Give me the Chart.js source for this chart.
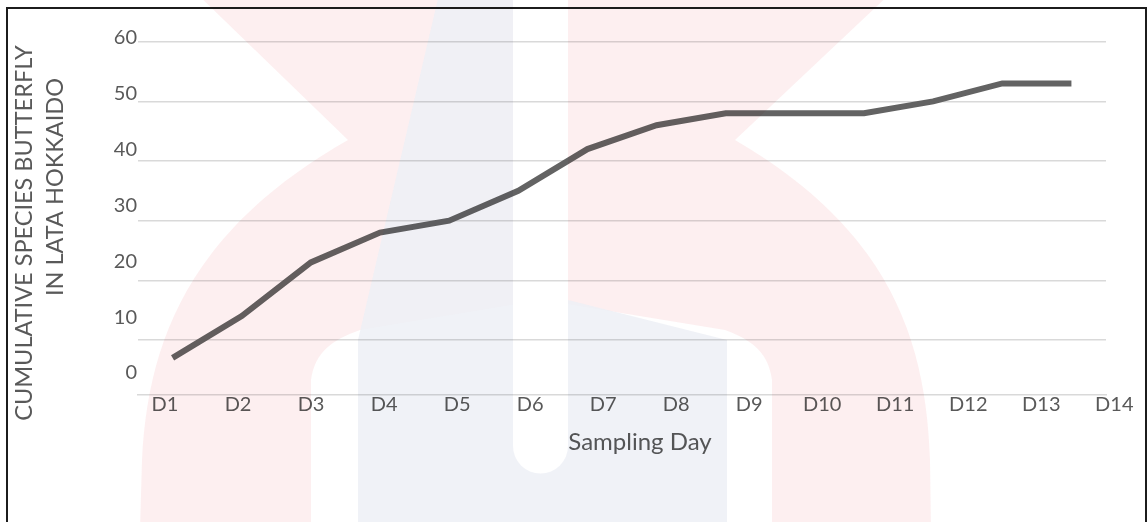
<!DOCTYPE html>
<html>
<head>
<meta charset="utf-8">
<title>Cumulative butterfly species by sampling day</title>
<script src="https://cdn.jsdelivr.net/npm/chart.js@4"></script>
<style>
  html, body { margin: 0; padding: 0; background: #ffffff; }
  #wrap { position: relative; width: 1148px; height: 522px; overflow: hidden; }
  #chart { position: absolute; left: 0; top: 0; }
  #frame { position: absolute; left: 6px; top: 7px; width: 1141px; height: 600px;
           box-sizing: border-box; border: 2px solid #1c1c1c; pointer-events: none; }
  #emblem { position: absolute; left: 0; top: 0; mix-blend-mode: multiply; pointer-events: none; }
</style>
</head>
<body>
<div id="wrap">
  <canvas id="chart" width="1148" height="522"></canvas>
  <div id="frame"></div>
  <!-- faint institutional emblem printed over the page -->
  <svg id="emblem" width="1148" height="522" viewBox="0 0 1148 522">
    <defs>
      <mask id="slot">
        <rect x="-10" y="-10" width="1170" height="545" fill="#fff"/>
        <path d="M513,-10 L568,-10 L568,446 A27.5,27.5 0 0 1 513,446 Z" fill="#000"/>
      </mask>
    </defs>
    <g mask="url(#slot)">
      <path fill="rgb(228,40,55)" fill-opacity="0.075"
            d="M140,530 L142,460 C148,340 190,230 348,140 L193,-10 L894,-10 L735,140
               C890,230 926,340 930,460 L931,530 L772,530 L772,380
               C768,352 752,340 725,330 L542,300 L360,330 C332,340 315,352 311,380 L311,530 Z"/>
      <path fill="rgb(237,240,246)" fill-opacity="0.85"
            d="M440,-10 L513,-10 L513,300 L568,300 L727,340 L727,530 L358,530 L358,340 Z"/>
    </g>
  </svg>
</div>
<script>
// Sampling days and the running total of butterfly species recorded
const days = ['D1', 'D2', 'D3', 'D4', 'D5', 'D6', 'D7', 'D8', 'D9', 'D10', 'D11', 'D12', 'D13', 'D14'];
const cumulativeSpecies = [7, 14, 23, 28, 30, 35, 42, 46, 48, 48, 48, 50, 53, 53];

// Value axis labels and horizontal gridlines
const yTickValues = [0, 10, 20, 30, 40, 50, 60];
const gridValues = [10, 20, 30, 40, 50, 60];

// Axis titles
const xTitle = 'Sampling Day';
const yTitleLines = ['CUMULATIVE SPECIES BUTTERFLY', 'IN LATA HOKKAIDO'];

const textColor = '#595959';
const gridColor = '#d9d9d9';
Chart.defaults.font.family = 'Lato';

// Writes the two axis titles in their text boxes
const axisTitles = {
  id: 'axisTitles',
  afterDraw(chart) {
    const { ctx } = chart;
    ctx.save();
    ctx.fillStyle = textColor;
    ctx.textAlign = 'center';
    ctx.textBaseline = 'middle';

    ctx.font = '24px Lato';
    ctx.fillText(xTitle, 640, 442);

    ctx.font = '23.5px Lato';
    const boxes = [{ x: 24, y: 233 }, { x: 55, y: 187 }];
    yTitleLines.forEach((line, i) => {
      ctx.save();
      ctx.translate(boxes[i].x, boxes[i].y);
      ctx.rotate(-Math.PI / 2);
      ctx.fillText(line, 0, 0);
      ctx.restore();
    });
    ctx.restore();
  }
};

new Chart(document.getElementById('chart'), {
  type: 'line',
  data: {
    labels: days,
    datasets: [{
      data: cumulativeSpecies,
      borderColor: '#636363',
      borderWidth: 6,
      borderJoinStyle: 'miter',
      pointRadius: 0,
      tension: 0,
      xAxisID: 'x',
      yAxisID: 'y'
    }]
  },
  plugins: [axisTitles],
  options: {
    responsive: false,
    animation: false,
    devicePixelRatio: 1,
    layout: { padding: { left: 8, top: 41.7, right: 42, bottom: 0 } },
    plugins: { legend: { display: false }, tooltip: { enabled: false } },
    scales: {
      // category axis that places the points in the middle of each day slot
      x: { type: 'category', offset: true, display: false },
      // day labels along the bottom
      xl: {
        type: 'linear',
        position: 'bottom',
        min: -0.37,
        max: 12.886,
        afterBuildTicks: (s) => { s.ticks = days.map((d, i) => ({ value: i })); },
        grid: { display: false, drawTicks: false },
        border: { display: true, color: gridColor, width: 1.5 },
        ticks: {
          autoSkip: false, maxRotation: 0, padding: 0, color: textColor,
          font: { size: 20, lineHeight: 1 },
          callback: (v) => days[v]
        },
        afterFit: (s) => { s.height = 127; }
      },
      // value axis used by the series and the gridlines
      y: {
        type: 'linear',
        position: 'left',
        min: 0.78,
        max: 60,
        afterBuildTicks: (s) => { s.ticks = gridValues.map((v) => ({ value: v })); },
        ticks: { display: false },
        grid: { color: gridColor, lineWidth: 1.5, drawTicks: false },
        border: { display: false },
        afterFit: (s) => { s.width = 0; }
      },
      // value labels
      yl: {
        type: 'linear',
        position: 'left',
        weight: 1,
        min: -3.944,
        max: 59.337,
        afterBuildTicks: (s) => { s.ticks = yTickValues.map((v) => ({ value: v })); },
        grid: { display: false, drawTicks: false },
        border: { display: false },
        ticks: { autoSkip: false, padding: 1, color: textColor, font: { size: 20 } },
        afterFit: (s) => { s.width = 130; }
      }
    }
  }
});
</script>
</body>
</html>
